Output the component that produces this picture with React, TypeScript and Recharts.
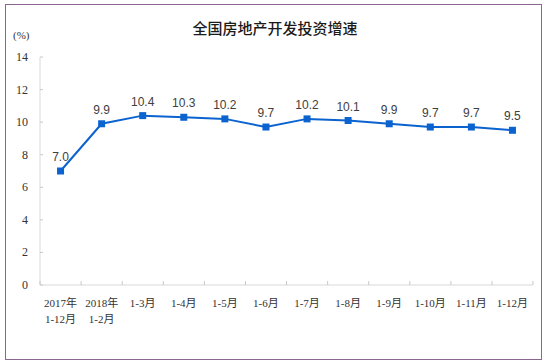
import React from "react";
import { LineChart, Line, XAxis, YAxis, LabelList } from "recharts";

const categories = [
  "2017年\n1-12月",
  "2018年\n1-2月",
  "1-3月",
  "1-4月",
  "1-5月",
  "1-6月",
  "1-7月",
  "1-8月",
  "1-9月",
  "1-10月",
  "1-11月",
  "1-12月",
];
const growth = [7.0, 9.9, 10.4, 10.3, 10.2, 9.7, 10.2, 10.1, 9.9, 9.7, 9.7, 9.5];
const yTicks = [0, 2, 4, 6, 8, 10, 12, 14];
const title = "全国房地产开发投资增速";
const unit = "(%)";

const data = categories.map((c, i) => ({ name: c, value: growth[i] }));

const AXIS_GRAY = "#d9d9d9";
const LINE_BLUE = "#0b63d0";
const CJK = "'Liberation Serif', 'Noto Sans CJK SC', serif";

const XTick = (props: any) => {
  const { x, y, payload, index } = props;
  const lines = String(payload.value).split("\n");
  const half = 20.5;
  return (
    <g>
      <line x1={x - half} x2={x - half} y1={y - 12} y2={y - 8} stroke="#c8c8c8" />
      {index === categories.length - 1 && (
        <line x1={x + half} x2={x + half} y1={y - 12} y2={y - 8} stroke="#c8c8c8" />
      )}
      {lines.map((l: string, i: number) => (
        <text
          key={i}
          x={x}
          y={y + 14 + i * 16}
          textAnchor="middle"
          fontSize={11}
          fill="#333"
          fontFamily={CJK}
        >
          {l}
        </text>
      ))}
    </g>
  );
};

const YTick = (props: any) => {
  const { x, y, payload } = props;
  return (
    <g>
      <line x1={x + 12} x2={x + 15} y1={y} y2={y} stroke="#c8c8c8" />
      <text
        x={x}
        y={y + 4}
        textAnchor="end"
        fontSize={12}
        fill="#333"
        fontFamily="'Liberation Serif', serif"
      >
        {payload.value}
      </text>
    </g>
  );
};

const SquareDot = (props: any) => {
  const { cx, cy, index } = props;
  if (cx == null || cy == null) return <g key={index} />;
  return <rect key={index} x={cx - 3.5} y={cy - 3.5} width={7} height={7} fill={LINE_BLUE} />;
};

export default function App() {
  return (
    <div style={{ position: "absolute", left: 0, top: 0, width: 550, height: 364, background: "#fff" }}>
      <div
        style={{
          position: "absolute",
          left: 5,
          top: 4,
          width: 535,
          height: 354,
          border: "1.5px solid #8a6690",
          pointerEvents: "none",
        }}
      />
      <div
        style={{
          position: "absolute",
          left: 0,
          top: 19,
          width: 550,
          textAlign: "center",
          fontSize: 15,
          fontWeight: 500,
          fontFamily: "'Noto Sans CJK SC', sans-serif",
          color: "#1a1a1a",
          lineHeight: "18px",
        }}
      >
        {title}
      </div>
      <div
        style={{
          position: "absolute",
          left: 13,
          top: 28,
          fontSize: 11,
          fontFamily: CJK,
          color: "#333",
          lineHeight: "14px",
        }}
      >
        {unit}
      </div>
      <LineChart
        width={550}
        height={364}
        data={data}
        margin={{ top: 57, right: 17, bottom: 39, left: 0 }}
      >
        <XAxis
          dataKey="name"
          scale="band"
          interval={0}
          axisLine={{ stroke: AXIS_GRAY }}
          tickLine={false}
          tick={<XTick />}
          height={40}
        />
        <XAxis
          xAxisId="top"
          orientation="top"
          dataKey="name"
          scale="band"
          axisLine={{ stroke: AXIS_GRAY }}
          tick={false}
          tickLine={false}
          height={0}
        />
        <YAxis
          domain={[0, 14]}
          ticks={yTicks}
          interval={0}
          width={40}
          axisLine={{ stroke: AXIS_GRAY }}
          tickLine={false}
          tickMargin={6}
          tick={<YTick />}
        />
        <YAxis
          yAxisId="right"
          orientation="right"
          domain={[0, 14]}
          axisLine={{ stroke: "#cfcfcf", strokeWidth: 2 }}
          tick={false}
          tickLine={false}
          width={0}
        />
        <Line
          type="linear"
          dataKey="value"
          stroke={LINE_BLUE}
          strokeWidth={2}
          dot={<SquareDot />}
          activeDot={false}
          isAnimationActive={false}
        >
          <LabelList
            dataKey="value"
            position="top"
            offset={10}
            formatter={(v: any) => Number(v).toFixed(1)}
            style={{ fontSize: 12, fill: "#404040", fontFamily: "'Liberation Sans', Arial, sans-serif" }}
          />
        </Line>
      </LineChart>
    </div>
  );
}
